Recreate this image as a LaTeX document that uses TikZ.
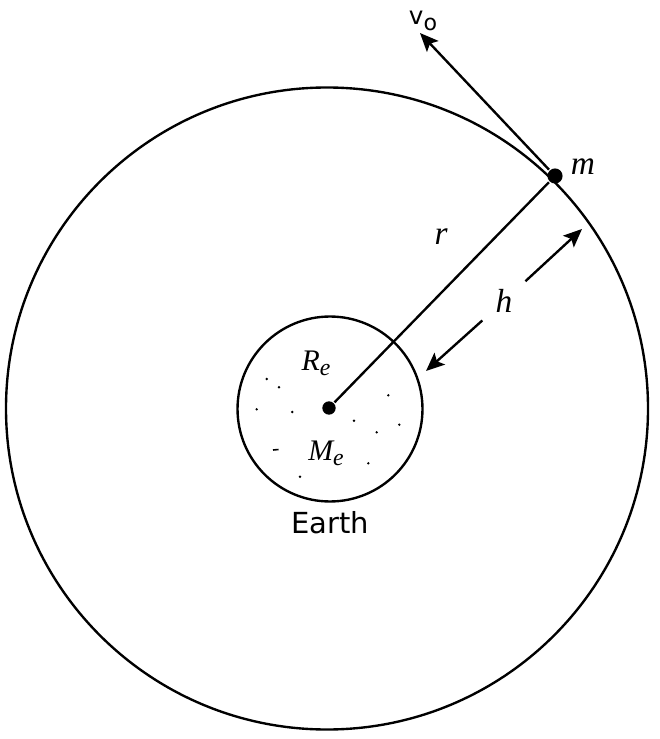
\documentclass[tikz,border=0pt]{standalone}
\usepackage{fontspec}
\newfontfamily\labelfont{DejaVu Sans}
\newfontfamily\symfont{Liberation Serif}
\usetikzlibrary{positioning,arrows.meta}

\begin{document}
\begin{tikzpicture}[x=0.02cm, y=-0.02cm,
      line width=1.35pt,
      big/.style={font=\symfont\itshape\fontsize{19}{22}\selectfont},
      sans/.style={font=\labelfont\fontsize{16.5}{19}\selectfont},
      small/.style={font=\symfont\itshape\fontsize{17}{20}\selectfont},
      dot/.style={circle, fill, inner sep=0pt, minimum size=#1},
      dot/.default=7.6pt,
      arr/.style={-{Stealth[length=10.5pt, width=9pt, inset=2.2pt]}}]
      \useasboundingbox (0,0) rectangle (659,739);
      \draw (327,408.5) circle (321);
      \node[draw, circle, minimum size=3.7cm, inner sep=0pt] (earth) at (330,409) {};
      \node[dot] (core) at (329,408) {};
      \node[dot=8.6pt] (sat) at (555,176) {};
      \draw (core) -- (sat);
      \coordinate (vtip) at (420,33);
      \draw[arr] (sat) -- (vtip);
      \node[inner sep=0pt, font=\labelfont\fontsize{14}{17}\selectfont] (vlab) at (423,21)
        {v\raisebox{-3.8pt}{\fontsize{12.6}{15}\selectfont o}};
      \node[big] (mlab) at (583,167) {m};
      \node[big] (rlab) at (441,237) {r};
      \coordinate (hlo) at (426,371);
      \coordinate (hhi) at (582,229);
      \node[big, circle, inner sep=0pt, minimum size=1.12cm] (hlab) at (504,301) {h};
      \draw[arr] (hlab) -- (hhi);
      \draw[arr] (hlab) -- (hlo);
      \node[small] (relab) at (316,363) {R\raisebox{-3pt}{\fontsize{13.5}{16}\selectfont e}};
      \node[small] (melab) at (326,453) {M\raisebox{-3pt}{\fontsize{13.5}{16}\selectfont e}};
      \node[below=1pt of earth, sans] (earthlab) {Earth};
      \foreach \x/\y in {266.7/379, 279/387.3, 256.7/409.3, 292.3/412, 388.3/395.3,
        354/420.7, 399.3/424.7, 376.7/432.3, 368.3/463.3, 300/476.7}
        \fill (\x,\y) circle (0.75pt);
      \draw[line width=0.9pt] (273,450) -- (278.5,449.5);
    \end{tikzpicture}
\end{document}
